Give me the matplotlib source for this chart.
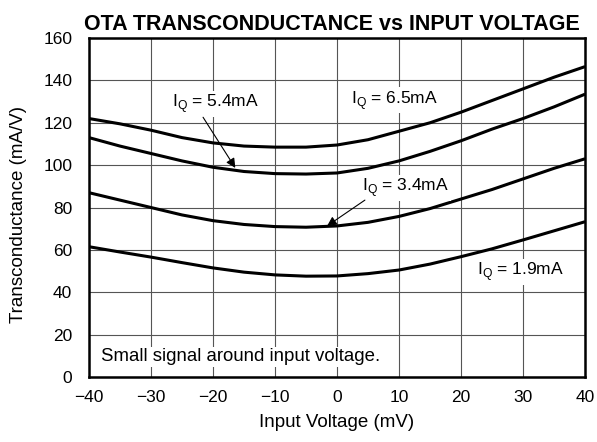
import matplotlib
matplotlib.use('Agg')
import matplotlib.pyplot as plt
import numpy as np

plt.rcParams['font.family'] = ['Liberation Sans', 'DejaVu Sans']
plt.rcParams['mathtext.fontset'] = 'custom'
plt.rcParams['mathtext.rm'] = 'Liberation Sans'

# input voltage (mV)
vin = [-40, -35, -30, -25, -20, -15, -10, -5, 0, 5, 10, 15, 20, 25, 30, 35, 40]

# transconductance (mA/V) for each quiescent current
gm_65 = [122, 119.5, 116.5, 113, 110.5, 109, 108.5, 108.5, 109.5, 112, 116, 120, 125, 130.5, 136, 141.5, 146.5]
gm_54 = [113, 109, 105.5, 102, 99, 97, 96, 95.8, 96.3, 98.5, 102, 106.5, 111.5, 117, 122, 127.5, 133.5]
gm_34 = [87, 83.5, 80, 76.5, 73.8, 72, 71, 70.7, 71.3, 73, 75.8, 79.5, 84, 88.5, 93.5, 98.5, 103]
gm_19 = [61.5, 59, 56.6, 54, 51.5, 49.5, 48.2, 47.6, 47.7, 48.8, 50.5, 53.3, 56.8, 60.5, 64.7, 69, 73.3]

xticks = [-40, -30, -20, -10, 0, 10, 20, 30, 40]
yticks = [0, 20, 40, 60, 80, 100, 120, 140, 160]

fig = plt.figure(figsize=(5.97, 4.42), dpi=100)
ax = fig.add_axes([0.149, 0.147, 0.831, 0.767])

for gm in (gm_65, gm_54, gm_34, gm_19):
    ax.plot(vin, gm, color='black', lw=2.2, solid_capstyle='butt')

ax.set_xlim(-40, 40)
ax.set_ylim(0, 160)
ax.set_xticks(xticks)
ax.set_yticks(yticks)
ax.grid(True, color='#555555', lw=0.8)
ax.tick_params(length=0, labelsize=12.5)
ax.tick_params(axis='x', pad=9)
ax.tick_params(axis='y', pad=12)
for s in ax.spines.values():
    s.set_linewidth(1.8)

ax.set_xlabel('Input Voltage (mV)', fontsize=13.5, labelpad=7)
ax.set_ylabel('Transconductance (mA/V)', fontsize=13.5, labelpad=9)
ax.yaxis.set_label_coords(-0.125, 0.478)
ax.set_title('OTA TRANSCONDUCTANCE vs INPUT VOLTAGE', fontsize=15.5, fontweight='bold',
             pad=6, x=0.49)

# labels (white box hides the grid behind them)
lab = 12.5
wbox = dict(facecolor='white', edgecolor='none', pad=1)
ax.text(-26.6, 129, 'I$_\\mathregular{Q}$ = 5.4mA', fontsize=lab, va='center', bbox=wbox)
ax.text(2.3, 130.7, 'I$_\\mathregular{Q}$ = 6.5mA', fontsize=lab, va='center', bbox=wbox)
ax.text(4.1, 89.2, 'I$_\\mathregular{Q}$ = 3.4mA', fontsize=lab, va='center', bbox=wbox)
ax.text(22.5, 49.6, 'I$_\\mathregular{Q}$ = 1.9mA', fontsize=lab, va='center', bbox=wbox)
ax.text(-38.0, 9.5, 'Small signal around input voltage.', fontsize=13.4, va='center',
        bbox=wbox)

# arrows
arrow = dict(arrowstyle='-|>', color='black', lw=0.8, mutation_scale=14,
             shrinkA=0, shrinkB=0)
ax.annotate('', xy=(-16.4, 98.7), xytext=(-21.6, 122.6), arrowprops=arrow)
ax.annotate('', xy=(-1.6, 71.3), xytext=(4.5, 83.5), arrowprops=arrow)

fig.savefig('out.png', dpi=100)
